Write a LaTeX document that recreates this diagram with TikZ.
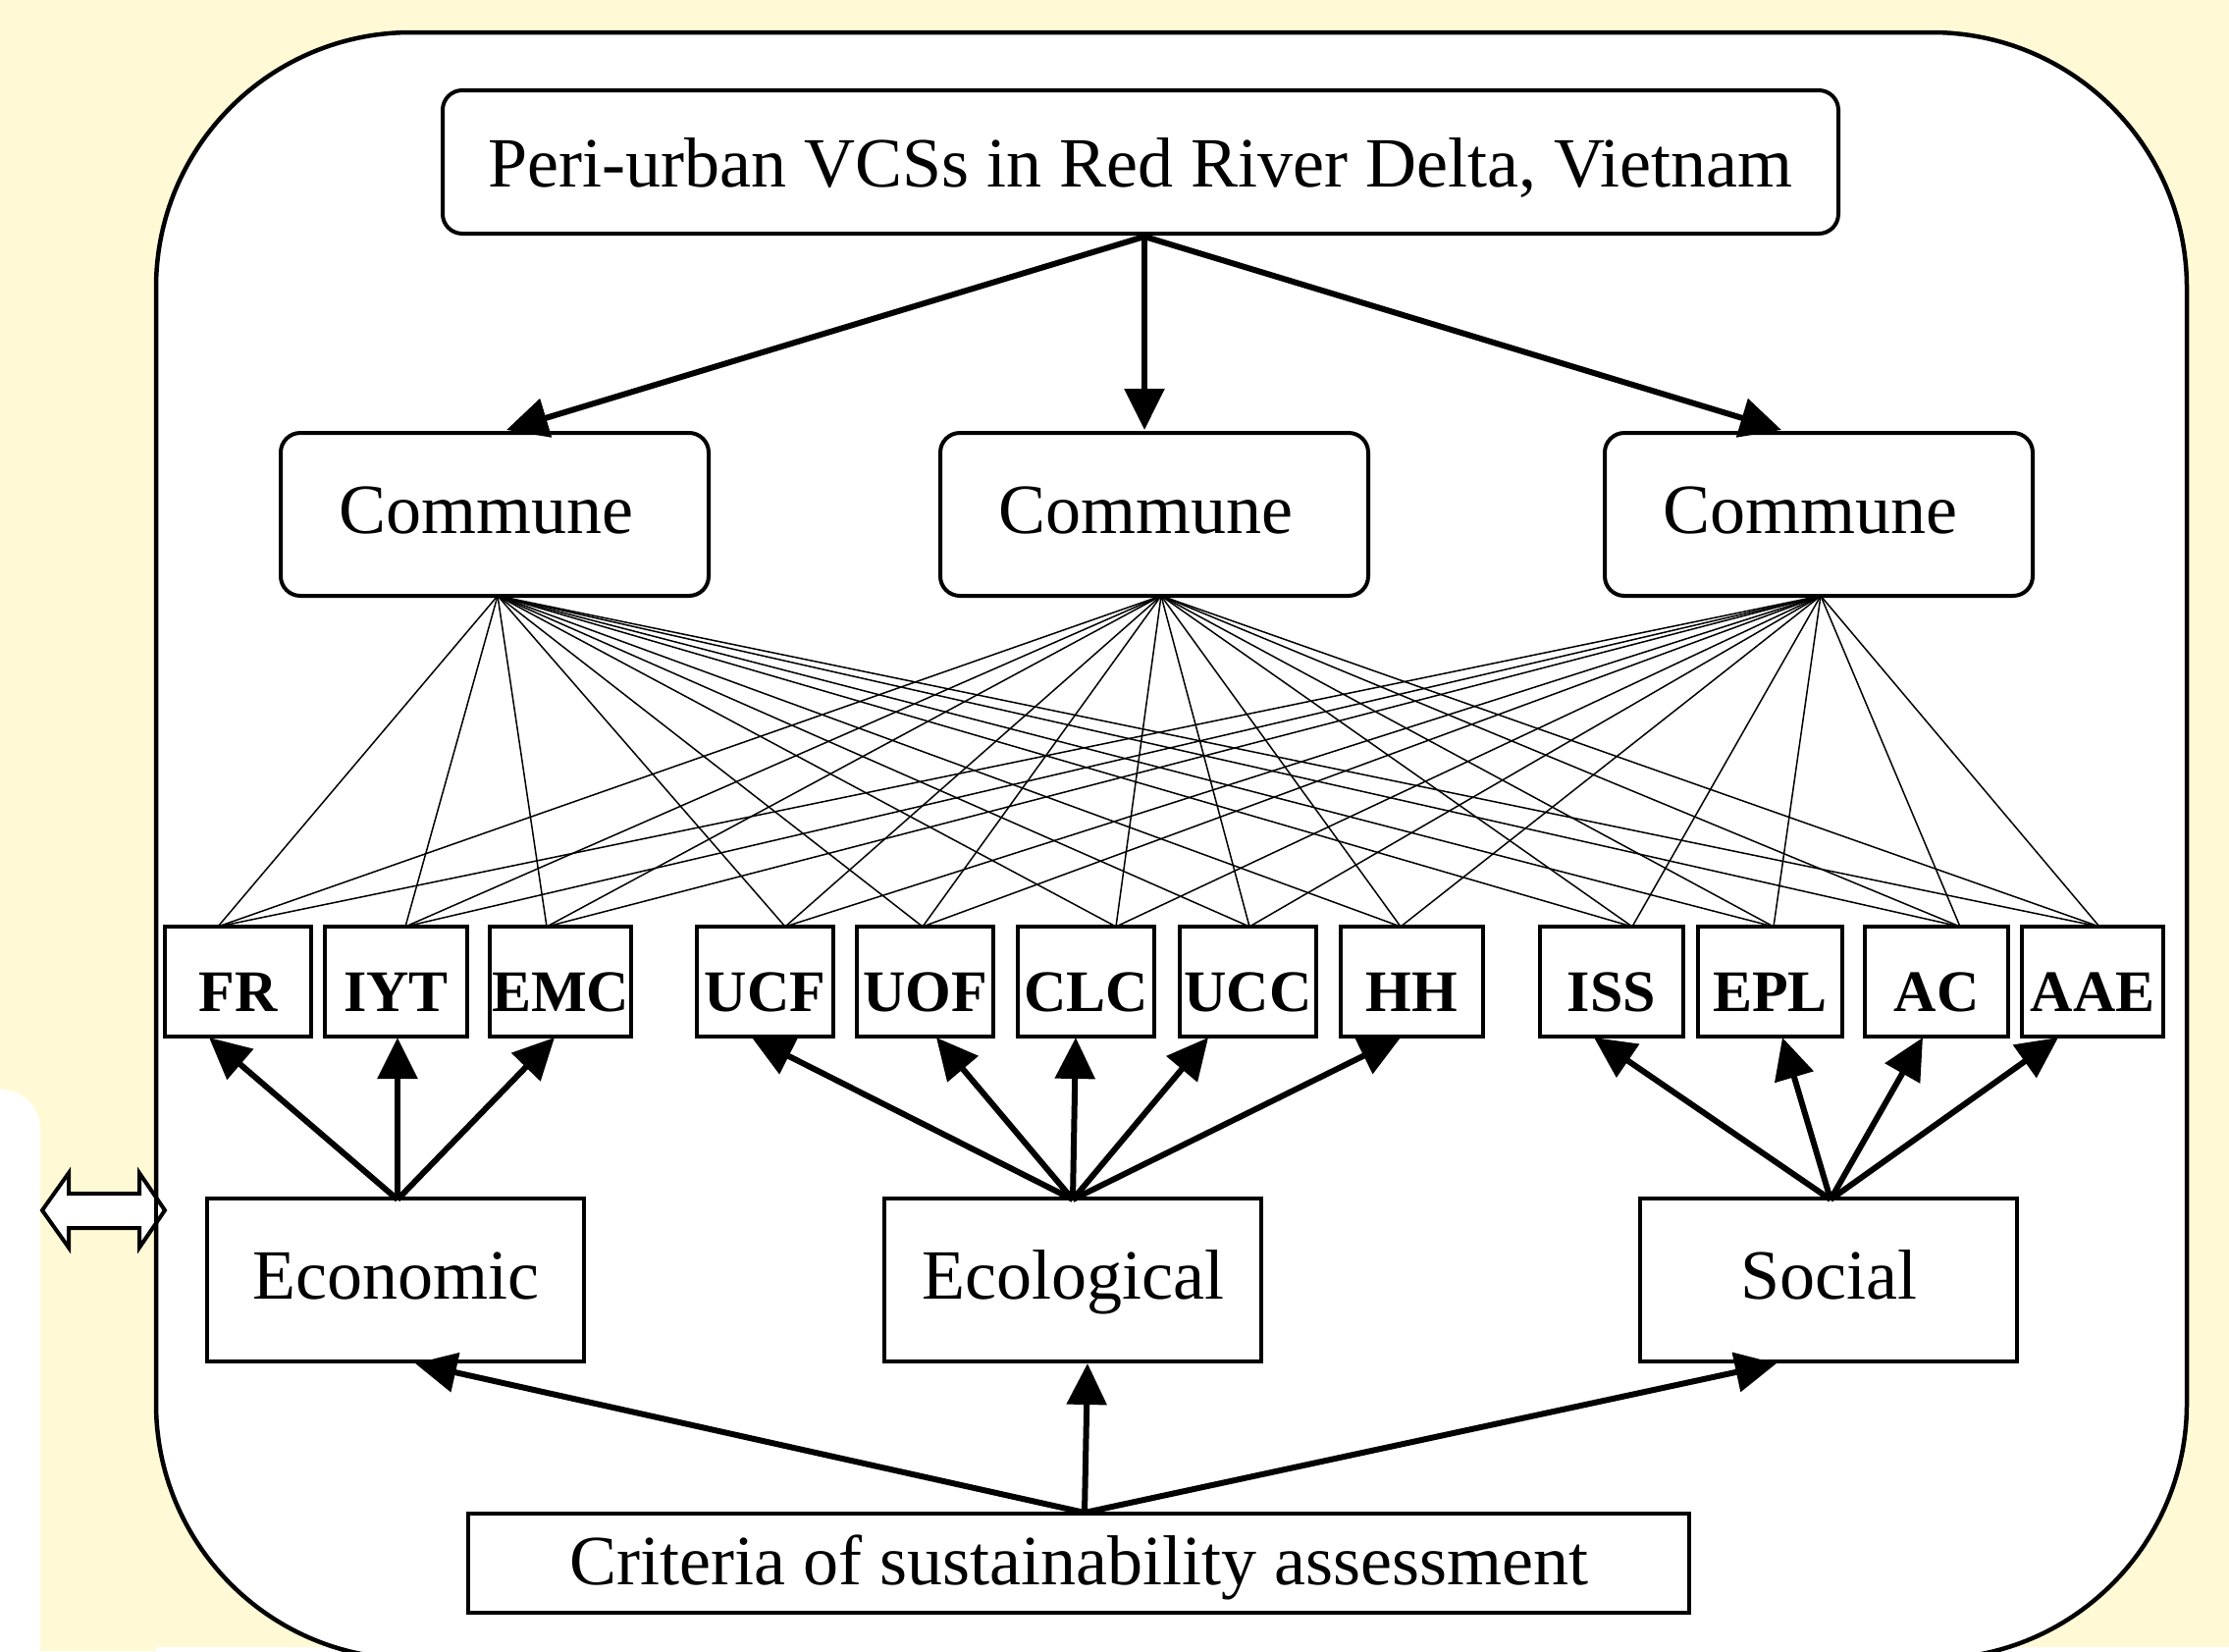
\documentclass[tikz,border=0pt]{standalone}
\usepackage{fontspec}
\setmainfont{Liberation Serif}
\usetikzlibrary{arrows.meta}
\definecolor{bgy}{RGB}{255,250,213}
\begin{document}
\begin{tikzpicture}[x=1pt,y=-1pt,
  bigbox/.style={draw,line width=4pt,inner sep=0pt,text height=38pt,text depth=0pt,font=\fontsize{72}{80}\selectfont},
  rbox/.style={bigbox,rounded corners=20pt},
  smallbox/.style={draw,line width=4pt,inner sep=0pt,minimum height=112pt,text height=60pt,text depth=0pt,font=\fontsize{60}{66}\selectfont\bfseries},
  web/.style={line width=1.5pt},
  tarrow/.style={line width=6pt,-{Triangle[length=42pt,width=40pt]}}]
\useasboundingbox (0,0) rectangle (2271,1682);
\begin{scope}
\clip (0,0) rectangle (2271,1682);
\fill[bgy] (0,0) rectangle (2271,1682);
\fill[white,rounded corners=40pt] (-100,1110) rectangle (41,1800);
\fill[white] (159,1678) rectangle (2271,1682);
\draw[fill=white,line width=4.5pt,rounded corners=260pt] (159,33) rectangle (2228,1690);
\end{scope}
% double arrow on the left
\draw[fill=white,line width=4pt,line join=miter] (43,1233) -- (70,1195) -- (70,1216) -- (142,1216) -- (142,1195) -- (168,1233) -- (142,1271) -- (142,1251) -- (70,1251) -- (70,1271) -- cycle;
\draw[line width=4.5pt] (159,1150) -- (159,1320);

% nodes
\node[rbox,minimum width=1422pt,minimum height=146pt,text height=50pt] (title) at (1162,165) {Peri-urban VCSs in Red River Delta, Vietnam};
\node[rbox,minimum width=436pt,minimum height=166pt] (c1) at (504,524) {Commune\hspace*{18pt}};
\node[rbox,minimum width=436pt,minimum height=166pt] (c2) at (1176,524) {Commune\hspace*{18pt}};
\node[rbox,minimum width=436pt,minimum height=166pt] (c3) at (1853,524) {Commune\hspace*{18pt}};

\node[smallbox,minimum width=149pt] (FR) at (242.5,1000) {FR};
\node[smallbox,minimum width=145pt] (IYT) at (403.5,1000) {IYT};
\node[smallbox,minimum width=144pt] (EMC) at (571,1000) {EMC};
\node[smallbox,minimum width=139pt] (UCF) at (779.5,1000) {UCF};
\node[smallbox,minimum width=139pt] (UOF) at (942.5,1000) {UOF};
\node[smallbox,minimum width=139pt] (CLC) at (1106.5,1000) {CLC};
\node[smallbox,minimum width=139pt] (UCC) at (1271.5,1000) {UCC};
\node[smallbox,minimum width=145pt] (HH) at (1438.5,1000) {HH};
\node[smallbox,minimum width=146pt] (ISS) at (1642,1000) {ISS};
\node[smallbox,minimum width=147pt] (EPL) at (1803.5,1000) {EPL};
\node[smallbox,minimum width=146pt] (AC) at (1973,1000) {AC};
\node[smallbox,minimum width=144pt] (AAE) at (2132,1000) {AAE};

\node[bigbox,minimum width=384pt,minimum height=166pt] (eco) at (403,1304) {Economic};
\node[bigbox,minimum width=384pt,minimum height=166pt] (ecl) at (1093,1304) {Ecological};
\node[bigbox,minimum width=384pt,minimum height=166pt] (soc) at (1863,1304) {Social};
\node[bigbox,minimum width=1244pt,minimum height=101pt,text height=44pt] (crit) at (1099,1592) {Criteria of sustainability assessment};

% connection points
\coordinate (tb) at (1166,241);
\coordinate (c1t) at (516,438);
\coordinate (c2t) at (1166,438);
\coordinate (c3t) at (1815,438);
\coordinate (c1b) at (507,607);
\coordinate (c2b) at (1183,607);
\coordinate (c3b) at (1855,607);
\coordinate (FRt) at (222,944);
\coordinate (IYTt) at (413,944);
\coordinate (EMCt) at (557,944);
\coordinate (UCFt) at (800,944);
\coordinate (UOFt) at (940,944);
\coordinate (CLCt) at (1137,944);
\coordinate (UCCt) at (1273,944);
\coordinate (HHt) at (1427,944);
\coordinate (ISSt) at (1663,944);
\coordinate (EPLt) at (1807,944);
\coordinate (ACt) at (1997,944);
\coordinate (AAEt) at (2139,944);
\coordinate (FRb) at (213,1057);
\coordinate (IYTb) at (405,1057);
\coordinate (EMCb) at (565,1057);
\coordinate (UCFb) at (766,1057);
\coordinate (UOFb) at (954,1057);
\coordinate (CLCb) at (1096,1057);
\coordinate (UCCb) at (1231,1057);
\coordinate (HHb) at (1427,1057);
\coordinate (ISSb) at (1624,1057);
\coordinate (EPLb) at (1816,1057);
\coordinate (ACb) at (1959,1057);
\coordinate (AAEb) at (2097,1057);
\coordinate (ecot) at (405,1222);
\coordinate (eclt) at (1093,1222);
\coordinate (soct) at (1865,1222);
\coordinate (ecob) at (423,1389);
\coordinate (eclb) at (1108,1389);
\coordinate (socb) at (1810,1389);
\coordinate (critt) at (1105,1541);

% web of thin lines
\foreach \c in {c1b,c2b,c3b}
  \foreach \b in {FRt,IYTt,EMCt,UCFt,UOFt,CLCt,UCCt,HHt,ISSt,EPLt,ACt,AAEt}
    \draw[web] (\c) -- (\b);

% thick arrows
\draw[tarrow] (tb) -- (c1t);
\draw[tarrow] (tb) -- (c2t);
\draw[tarrow] (tb) -- (c3t);
\foreach \b in {FRb,IYTb,EMCb} \draw[tarrow] (ecot) -- (\b);
\foreach \b in {UCFb,UOFb,CLCb,UCCb,HHb} \draw[tarrow] (eclt) -- (\b);
\foreach \b in {ISSb,EPLb,ACb,AAEb} \draw[tarrow] (soct) -- (\b);
\draw[tarrow] (critt) -- (ecob);
\draw[tarrow] (critt) -- (eclb);
\draw[tarrow] (critt) -- (socb);
\end{tikzpicture}
\end{document}
